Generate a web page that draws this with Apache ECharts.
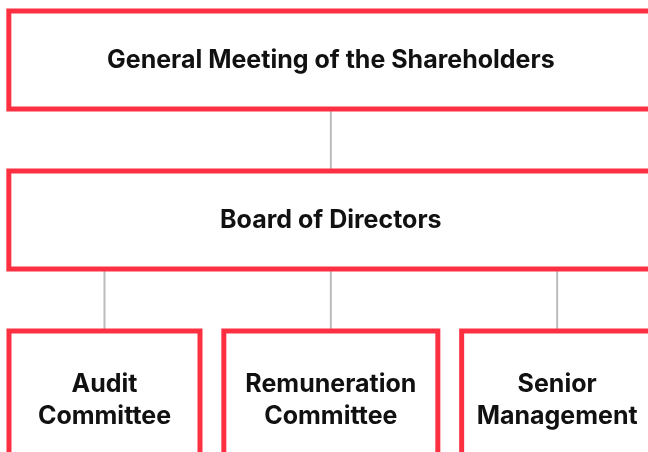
<!DOCTYPE html>
<html>
<head>
<meta charset="utf-8">
<script src="https://cdn.jsdelivr.net/npm/echarts@6/dist/echarts.min.js"></script>
<style>
  html, body { margin: 0; padding: 0; background: #fff; }
</style>
</head>
<body>
<div id="main" style="width: 648px; height: 452px"></div>
<script>
// org chart data
const topBody = "General Meeting of the Shareholders";
const board = "Board of Directors";
const committees = ["Audit\nCommittee", "Remuneration\nCommittee", "Senior\nManagement"];

// box styling (kept apart from the data)
const red = "#fd3042";
const wideWidth = 639;
const leafWidths = [186, 209, 186];

// the box is the label's own background, so the border is not stretched
function boxLabel(width, lines) {
  let h = lines === 1 ? 93 : 133;
  let inner = lines * 32;
  let pad = (h - inner) / 2;
  return {
    width: width,
    padding: lines === 1 ? [pad + 1, 0, pad - 1, 0] : [pad, 0, pad, 0],
    offset: lines === 1 ? [0, 0] : [0, 20],
  };
}

function buildTree() {
  let leaves = committees.map((name, i) => ({
    name: name,
    label: boxLabel(leafWidths[i], 2),
  }));
  return [{
    name: topBody,
    label: boxLabel(wideWidth, 1),
    children: [{
      name: board,
      label: boxLabel(wideWidth, 1),
      children: leaves,
    }],
  }];
}

let myChart = echarts.init(document.getElementById("main"));

let common = {
  type: "tree",
  orient: "TB",
  layout: "orthogonal",
  left: -8.67,
  width: 679,
  top: 60,
  height: 320,
  roam: false,
  expandAndCollapse: false,
  initialTreeDepth: -1,
  animation: false,
  edgeShape: "polyline",
  edgeForkPosition: "20%",
  symbol: "rect",
  symbolSize: 1,
  itemStyle: { color: "transparent", borderWidth: 0 },
  emphasis: { disabled: true },
};

let option = {
  backgroundColor: "#fff",
  series: [
    // connector lines only
    Object.assign({}, common, {
      z: 1,
      data: buildTree(),
      label: { show: false },
      leaves: { label: { show: false } },
      lineStyle: { color: "#bbbbbb", width: 2 },
    }),
    // boxes and labels on top
    Object.assign({}, common, {
      z: 3,
      data: buildTree(),
      lineStyle: { width: 0, opacity: 0 },
      label: {
        show: true,
        position: "inside",
        color: "#111",
        fontFamily: "Inter",
        fontWeight: "bold",
        fontSize: 25,
        lineHeight: 32,
        align: "center",
        verticalAlign: "middle",
        backgroundColor: "#fff",
        borderColor: red,
        borderWidth: 5,
      },
      leaves: {
        label: { position: "inside" },
      },
    }),
  ],
};

myChart.setOption(option);
</script>
</body>
</html>
